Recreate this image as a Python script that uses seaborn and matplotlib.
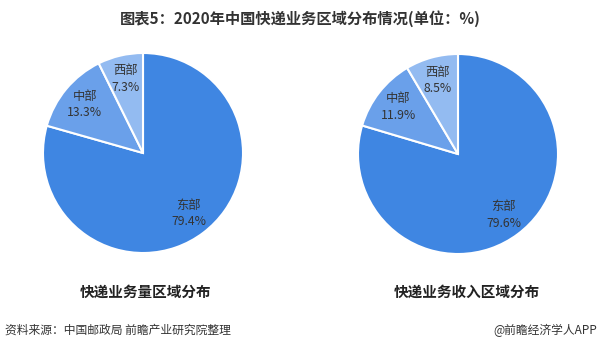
import numpy as np
import matplotlib
matplotlib.use("Agg")
import matplotlib.pyplot as plt
import seaborn as sns

sns.set_theme(style="white")
plt.rcParams['font.family'] = ['Noto Sans CJK SC', 'DejaVu Sans']

title = "图表5：2020年中国快递业务区域分布情况(单位：%)"
regions = ["东部", "中部", "西部"]
volume_share = [79.4, 13.3, 7.3]
revenue_share = [79.6, 11.9, 8.5]
subtitles = ["快递业务量区域分布", "快递业务收入区域分布"]
source = "资料来源：中国邮政局 前瞻产业研究院整理"
credit = "@前瞻经济学人APP"

colors = ["#3f86e2", "#6aa0ea", "#93bbf1"]

W, H = 600, 351
fig = plt.figure(figsize=(6, 3.51), dpi=100)
fig.patch.set_facecolor("white")

def pie_axes(cx, cy, r):
    return fig.add_axes([(cx - r) / W, (H - cy - r) / H, 2 * r / W, 2 * r / H])

for (cx, cy), vals, sub, subx in [((143, 153), volume_share, subtitles[0], 146),
                                  ((458, 154), revenue_share, subtitles[1], 467)]:
    ax = pie_axes(cx, cy, 100)
    wedges, _ = ax.pie(vals, colors=colors, startangle=90, counterclock=False,
                       radius=1.0, wedgeprops=dict(edgecolor="white", linewidth=1.5))
    for w, name, v in zip(wedges, regions, vals):
        ang = np.deg2rad((w.theta1 + w.theta2) / 2)
        d = 0.76
        ax.text(d * np.cos(ang), d * np.sin(ang), f"{name}\n{v:.1f}%",
                ha="center", va="center", fontsize=8.8, color="#333333", linespacing=1.35)
    ax.set_xlim(-1, 1)
    ax.set_ylim(-1, 1)
    ax.set_aspect("equal")
    ax.axis("off")
    fig.text(subx / W, 1 - 292 / H, sub, ha="center", va="center",
             fontsize=10.5, fontweight="bold", color="#222222")

fig.text(0.5, 1 - 19 / H, title, ha="center", va="center",
         fontsize=11, fontweight="bold", color="#333333")
fig.text(5 / W, 1 - 330 / H, source, ha="left", va="center",
         fontsize=8.5, color="#333333")
fig.text(597 / W, 1 - 330 / H, credit, ha="right", va="center",
         fontsize=8.5, color="#333333")

fig.savefig("out.png", dpi=100, facecolor="white")
